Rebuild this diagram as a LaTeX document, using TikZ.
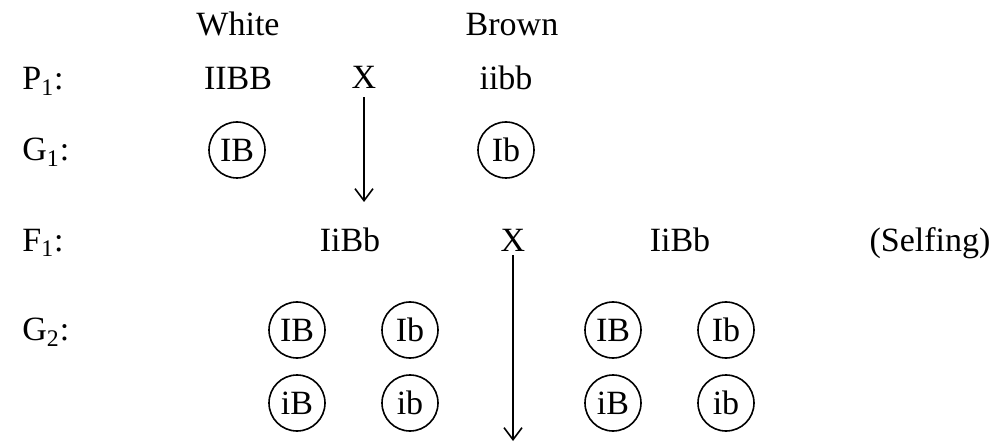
\documentclass[tikz,border=0pt]{standalone}
\usepackage{fontspec}
\setmainfont{Liberation Serif}
\usetikzlibrary{arrows.meta}
\begin{document}
\begin{tikzpicture}[x=0.5pt,y=-0.5pt,
  txt/.style={anchor=base,inner sep=0pt,font=\fontsize{17}{20}\selectfont},
  lbl/.style={txt,anchor=base west},
  gamete/.style={draw,circle,line width=0.8pt,minimum size=28pt,inner sep=0pt,font=\fontsize{17}{20}\selectfont},
  cross/.style={-{Straight Barb[length=6pt,width=9pt,line width=0.8pt]},line width=0.8pt}]
\useasboundingbox (0,0) rectangle (992,444);
% column headers
\node[txt] (white) at (238,36) {White};
\node[txt] (brown) at (512,36) {Brown};
% parents
\node[lbl] (p1) at (22,90) {P\textsubscript{1}:};
\node[txt] (pw) at (238,90) {IIBB};
\node[txt] (x1) at (364,89) {X};
\node[txt] (pb) at (506,90) {iibb};
% first gametes
\node[lbl] (g1) at (22,161) {G\textsubscript{1}:};
\node[gamete] (g1a) at (237,150) {IB};
\node[gamete] (g1b) at (506,150) {Ib};
% F1 generation
\node[lbl] (f1) at (22,251) {F\textsubscript{1}:};
\node[txt] (f1a) at (350,251) {IiBb};
\node[txt] (x2) at (513,251) {X};
\node[txt] (f1b) at (680,251) {IiBb};
\node[txt] (self) at (930,251) {(Selfing)};
% second gametes
\node[lbl] (g2) at (22,341) {G\textsubscript{2}:};
\node[gamete] (a1) at (297,330) {IB};
\node[gamete] (a2) at (410,330) {Ib};
\node[gamete] (a3) at (297,403) {iB};
\node[gamete] (a4) at (410,403) {ib};
\node[gamete] (b1) at (613,330) {IB};
\node[gamete] (b2) at (726,330) {Ib};
\node[gamete] (b3) at (613,403) {iB};
\node[gamete] (b4) at (726,403) {ib};
% cross arrows
\coordinate (e1) at (364,202);
\coordinate (e2) at (513,441);
\draw[cross] ([yshift=-4pt]x1.south) -- (e1);
\draw[cross] ([yshift=-2pt]x2.south) -- (e2);
\end{tikzpicture}
\end{document}
